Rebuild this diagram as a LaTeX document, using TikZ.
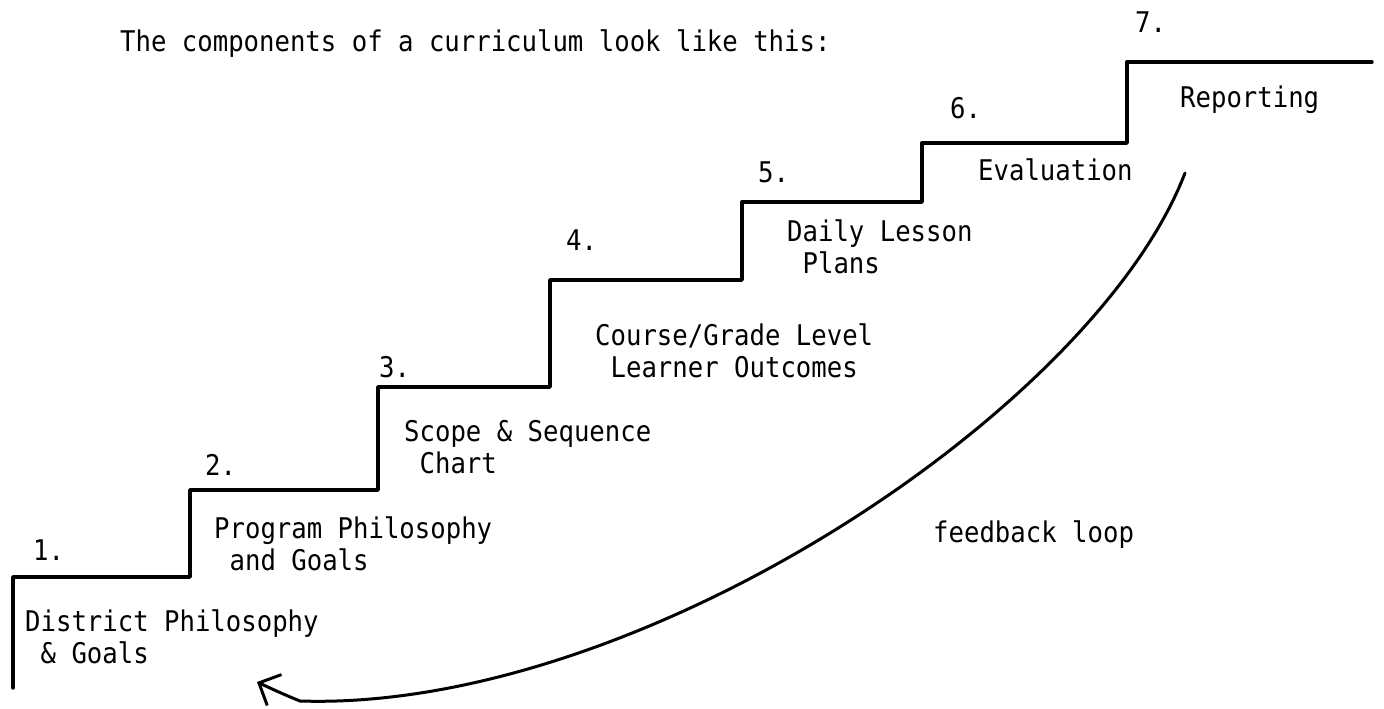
\documentclass[tikz,border=0pt]{standalone}
\usepackage{fontspec}
\newfontfamily\typefont[FakeStretch=0.9]{DejaVu Sans Mono}
\usetikzlibrary{arrows.meta}
\tikzset{
  lbl/.style={anchor=base west, inner sep=0pt, align=left, font=\typefont\fontsize{28.5}{32}\selectfont},
  stair/.style={line width=3.4pt, line join=round, line cap=round},
}
\begin{document}
\begin{tikzpicture}[x=1pt, y=-1pt, >={Straight Barb[length=17pt,width=34pt]}]
\useasboundingbox (0,0) rectangle (1384,709);
\node[lbl] (title) at (120,52) {The components of a curriculum look like this:};
% the stairs
\draw[stair] (13,688) |- (190,577) |- (378,490) |- (550,387) |- (742,280)
  |- (922,202) |- (1127,143) |- (1372,62);
% step numbers
\node[lbl] (n1) at (33,560) {1.};
\node[lbl] (n2) at (205,475) {2.};
\node[lbl] (n3) at (379,377) {3.};
\node[lbl] (n4) at (566,250) {4.};
\node[lbl] (n5) at (758,182) {5.};
\node[lbl] (n6) at (950,118) {6.};
\node[lbl] (n7) at (1135,33) {7.};
% what each step is (base = last line)
\node[lbl] (district) at (25,663) {District Philosophy\\\hphantom{D}\& Goals};
\node[lbl] (program) at (214,570) {Program Philosophy\\\hphantom{P}and Goals};
\node[lbl] (scope) at (404,473) {Scope \& Sequence\\\hphantom{S}Chart};
\node[lbl] (course) at (595,377) {Course/Grade Level\\\hphantom{C}Learner Outcomes};
\node[lbl] (daily) at (787,273) {Daily Lesson\\\hphantom{D}Plans};
\node[lbl] (evaluation) at (978,180) {Evaluation};
\node[lbl] (reporting) at (1180,107) {Reporting};
% the loop back down
\coordinate (loopstart) at (1185,173);
\coordinate (loopend) at (257,682);
\draw[line width=3pt, line cap=round, ->] (loopstart) .. controls (1095,408) and (640,712) .. (300,701)
  .. controls (283,694) .. (loopend);
\node[lbl] (feedback) at (933,542) {feedback loop};
\end{tikzpicture}
\end{document}
